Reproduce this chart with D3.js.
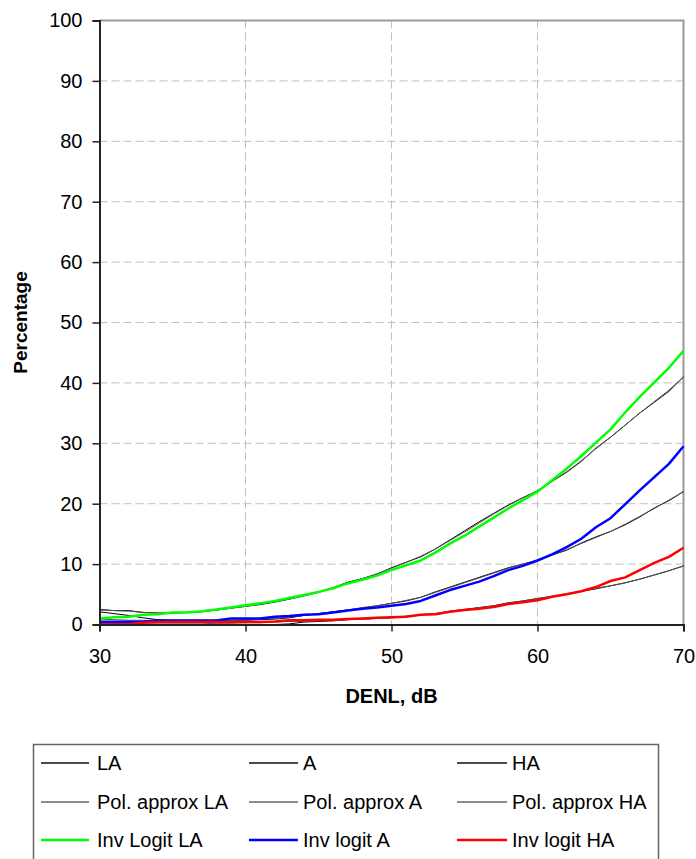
<!DOCTYPE html>
<html><head><meta charset="utf-8">
<script src="https://cdn.jsdelivr.net/npm/d3@7"></script>
<style>body{margin:0;background:#fff}svg{display:block}text{font-family:"Liberation Sans",Arial,sans-serif}</style>
</head><body><svg id="c" width="696" height="859"></svg>
<script>
const dB = [30,31,32,33,34,35,36,37,38,39,40,41,42,43,44,45,46,47,48,49,50,51,52,53,54,55,56,57,58,59,60,61,62,63,64,65,66,67,68,69,70];
const LA = [2.5,2.3,2.3,2.0,1.9,1.9,2.0,2.1,2.4,2.7,3.0,3.3,3.7,4.2,4.8,5.4,6.1,7.0,7.6,8.3,9.4,10.3,11.2,12.5,14.0,15.5,17.0,18.4,19.8,21.0,22.0,23.7,25.2,27.0,29.2,31.0,33.0,35.0,36.8,38.6,41.0];
const A = [2.1,1.8,1.5,1.1,0.8,0.7,0.7,0.7,0.7,0.7,0.7,0.8,0.9,1.1,1.5,1.8,2.1,2.4,2.7,3.1,3.5,3.9,4.5,5.4,6.2,7.0,7.8,8.6,9.4,10.0,10.6,11.5,12.3,13.5,14.5,15.4,16.5,17.8,19.3,20.5,22.0];
const HA = [0,0,0,0,0,0,0,0,0,0,0,0,0,0.1,0.4,0.5,0.6,0.8,0.9,1.0,1.1,1.3,1.6,1.8,2.2,2.5,2.8,3.1,3.6,3.9,4.3,4.6,5.0,5.5,5.9,6.4,6.9,7.5,8.2,8.9,9.7];
const polLA = [2.4,2.3,2.2,2.0,1.9,1.9,2.0,2.2,2.4,2.7,3.0,3.4,3.8,4.2,4.7,5.3,6.0,6.8,7.6,8.4,9.3,10.3,11.3,12.5,13.9,15.3,16.8,18.3,19.7,21.0,22.2,23.7,25.3,27.1,29.1,31.0,33.0,35.0,36.9,38.8,41.0];
const polA = [0.9,0.8,0.7,0.7,0.6,0.6,0.6,0.6,0.7,0.7,0.8,0.9,1.0,1.2,1.5,1.8,2.1,2.4,2.8,3.1,3.5,4.0,4.5,5.3,6.1,6.9,7.7,8.5,9.3,10.0,10.7,11.5,12.4,13.4,14.4,15.4,16.6,17.9,19.2,20.6,22.0];
const polHA = [0.2,0.1,0.1,0.1,0.1,0.1,0.1,0.1,0.2,0.2,0.3,0.3,0.4,0.5,0.5,0.6,0.7,0.8,0.9,1.0,1.2,1.4,1.6,1.8,2.1,2.4,2.8,3.1,3.5,3.9,4.3,4.7,5.1,5.5,6.0,6.4,6.9,7.5,8.2,8.9,9.7];
const invLA = [1.0,1.2,1.3,1.6,1.7,2.0,2.0,2.2,2.5,2.8,3.2,3.5,3.9,4.4,4.9,5.4,6.0,6.8,7.4,8.1,9.0,9.8,10.6,11.9,13.4,14.7,16.2,17.7,19.2,20.6,22.0,23.9,25.8,27.9,30.1,32.3,35.1,37.7,40.1,42.5,45.3];
const invA = [0.45,0.45,0.45,0.5,0.65,0.65,0.65,0.65,0.65,1.0,1.0,1.0,1.3,1.4,1.6,1.7,2.0,2.3,2.6,2.8,3.1,3.4,3.9,4.8,5.7,6.4,7.1,8.0,9.0,9.7,10.6,11.6,12.8,14.2,16.1,17.6,19.9,22.2,24.4,26.6,29.5];
const invHA = [0.05,0.05,0.05,0.3,0.4,0.4,0.4,0.4,0.4,0.4,0.4,0.4,0.5,0.7,0.7,0.8,0.8,0.9,1.0,1.1,1.2,1.3,1.6,1.7,2.1,2.4,2.6,2.9,3.4,3.7,4.0,4.6,5.0,5.5,6.2,7.2,7.8,9.0,10.2,11.2,12.7];
const xTicks = [30,40,50,60,70];
const yTicks = [0,10,20,30,40,50,60,70,80,90,100];
const seriesNames = ["LA","A","HA","Pol. approx LA","Pol. approx A","Pol. approx HA","Inv Logit LA","Inv logit A","Inv logit HA"];

const series = [
  {name:seriesNames[0], v:LA, c:"#000", w:1},
  {name:seriesNames[1], v:A, c:"#000", w:1},
  {name:seriesNames[2], v:HA, c:"#000", w:1},
  {name:seriesNames[3], v:polLA, c:"#555", w:1},
  {name:seriesNames[4], v:polA, c:"#555", w:1},
  {name:seriesNames[5], v:polHA, c:"#555", w:1},
  {name:seriesNames[6], v:invLA, c:"#00ff00", w:2.5},
  {name:seriesNames[7], v:invA, c:"#0000ff", w:2.5},
  {name:seriesNames[8], v:invHA, c:"#ff0000", w:2.5}
];

const svg = d3.select("#c");
const L=99.5, R=683.5, T=20.5, B=624.5;
const x = d3.scaleLinear().domain([30,70]).range([L,R]);
const y = d3.scaleLinear().domain([0,100]).range([B,T]);

// grid
svg.append("g").selectAll("line").data(yTicks.filter(d=>d>0&&d<100)).join("line")
  .attr("x1",L).attr("x2",R).attr("y1",d=>y(d)).attr("y2",d=>y(d))
  .attr("stroke","#c0c0c0").attr("stroke-width",1).attr("stroke-dasharray","8,4");
svg.append("g").selectAll("line").data(xTicks.filter(d=>d>30&&d<70)).join("line")
  .attr("y1",T).attr("y2",B).attr("x1",d=>x(d)).attr("x2",d=>x(d))
  .attr("stroke","#c0c0c0").attr("stroke-width",1).attr("stroke-dasharray","8,4");

// top/right border
svg.append("path").attr("d",`M${L},${T}H${R}V${B}`).attr("fill","none").attr("stroke","#999").attr("stroke-width",2);

// lines
const line = d3.line().x((d,i)=>x(dB[i])).y(d=>y(d));
svg.append("g").selectAll("path").data(series).join("path")
  .attr("d",d=>line(d.v)).attr("fill","none").attr("stroke",d=>d.c).attr("stroke-width",d=>d.w)
  .attr("stroke-linejoin","round");

// axes
const yAxis = svg.append("g").attr("transform",`translate(${L},0)`)
  .call(d3.axisLeft(y).tickValues(yTicks).tickSize(7).tickPadding(10));
const xAxis = svg.append("g").attr("transform",`translate(0,${B})`)
  .call(d3.axisBottom(x).tickValues(xTicks).tickSize(7).tickPadding(17));
[yAxis,xAxis].forEach(g=>{
  g.select(".domain").attr("stroke","#222").attr("stroke-width",2);
  g.selectAll(".tick line").attr("stroke","#222").attr("stroke-width",1.5);
  g.selectAll("text").attr("font-size",20).attr("fill","#000").attr("font-family","Liberation Sans, Arial, sans-serif");
});

// titles
svg.append("text").attr("x",(L+R)/2).attr("y",703).attr("text-anchor","middle")
  .attr("font-size",20).attr("font-weight","bold").text("DENL, dB");
svg.append("text").attr("transform",`translate(27,${(T+B)/2}) rotate(-90)`).attr("text-anchor","middle")
  .attr("font-size",19).attr("font-weight","bold").text("Percentage");

// legend
const lg = svg.append("g");
lg.append("rect").attr("x",33.5).attr("y",744.5).attr("width",625).attr("height",120)
  .attr("fill","#fff").attr("stroke","#666").attr("stroke-width",1.5);
const colX = [[41,89,97],[249,298,303],[457,507,512]];
const rowY = [763,802,840];
series.forEach((s,i)=>{
  const col = i%3, row = Math.floor(i/3);
  lg.append("line").attr("x1",colX[col][0]).attr("x2",colX[col][1]).attr("y1",rowY[row]).attr("y2",rowY[row])
    .attr("stroke", row==0?"#111":(row==1?"#666":s.c)).attr("stroke-width", row==2?2.5:1.5);
  lg.append("text").attr("x",colX[col][2]).attr("y",rowY[row]).attr("dy","0.35em")
    .attr("font-size",20).text(s.name);
});
</script></body></html>
